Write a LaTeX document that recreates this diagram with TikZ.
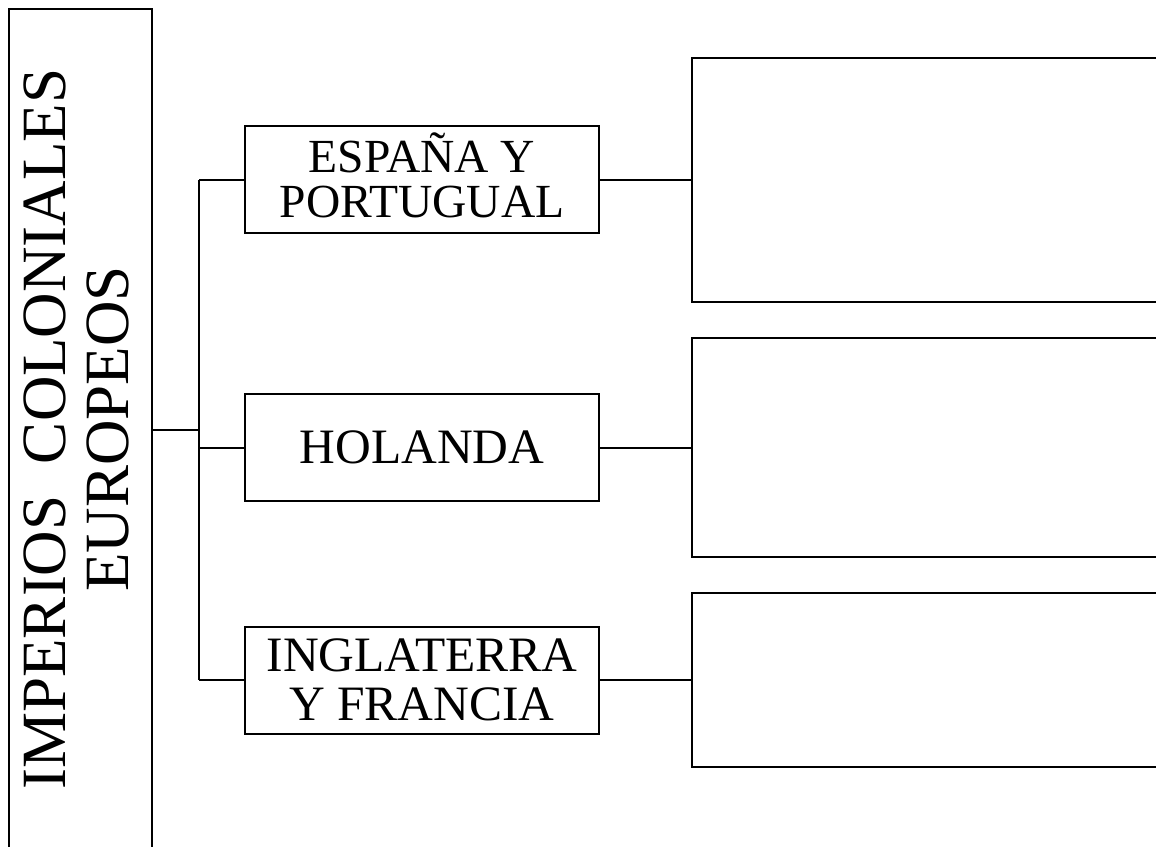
\documentclass[tikz,border=0pt]{standalone}
\usepackage{fontspec}
\setmainfont{Liberation Serif}
\begin{document}
\begin{tikzpicture}[x=1pt,y=-1pt,line width=2pt,
  box/.style={draw, minimum width=354pt, minimum height=107pt, inner sep=0pt, align=center, font=\fontsize{49.5}{49.5}\selectfont},
  panel/.style={draw, minimum width=479pt, inner sep=0pt, anchor=west},
  wire/.style={draw, line width=2pt}]
\useasboundingbox (0,0) rectangle (1156,846);
\clip (0,0) rectangle (1156,846);
% left title box
\node[draw, minimum width=143pt, minimum height=841pt, inner sep=0pt] (imp) at (80.5,429.5) {};
\node[rotate=90, align=center, inner sep=0pt, font=\fontsize{63}{63}\selectfont] (imptext) at (76.7,429) {IMPERIOS\ \ COLONIALES\\EUROPEOS};
% middle boxes
\node[box, font=\fontsize{47.5}{45.5}\selectfont] (b1) at (422,179.5) {ESPA\smash{Ñ}A Y\\PORTUGUAL};
\node[box] (b2) at (422,447.5) {HOLANDA};
\node[box] (b3) at (422,680) {INGLATERRA\\Y FRANCIA};
% right panels
\node[panel, minimum height=244pt] (p1) at (691,179.5) {};
\node[panel, minimum height=219pt] (p2) at (691,447.5) {};
\node[panel, minimum height=174pt] (p3) at (691,680) {};
% connectors
\coordinate (j) at (199,430);
\draw[wire] (imp.east |- j) -- (j);
\draw[wire] (j |- b1.west) -- (j |- b3.west);
\draw[wire] (j |- b1.west) -- (b1.west);
\draw[wire] (j |- b2.west) -- (b2.west);
\draw[wire] (j |- b3.west) -- (b3.west);
\draw[wire] (b1.east) -- (p1.west);
\draw[wire] (b2.east) -- (p2.west);
\draw[wire] (b3.east) -- (p3.west);
\end{tikzpicture}
\end{document}
